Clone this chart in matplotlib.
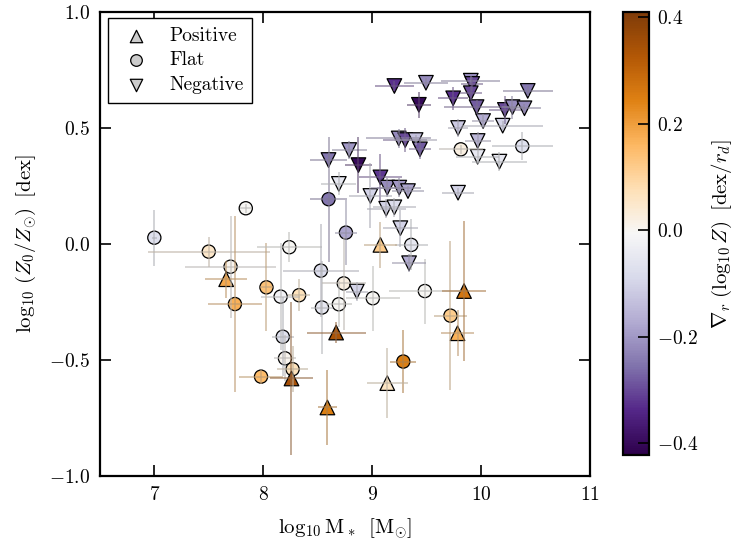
import numpy as np
import matplotlib
matplotlib.use('Agg')
import matplotlib.pyplot as plt

plt.rcParams['font.family'] = 'serif'
plt.rcParams['font.serif'] = ['cmr10']
plt.rcParams['mathtext.fontset'] = 'cm'
plt.rcParams['axes.formatter.use_mathtext'] = True
plt.rcParams['axes.unicode_minus'] = True

# Negative gradients
neg_m = [9.205, 9.495, 9.907, 9.92, 9.43, 9.745, 9.907, 9.96, 10.43, 10.22,
         10.29, 10.40, 10.02, 10.20, 9.79, 9.245, 9.305, 9.40, 9.44, 9.97,
         9.97, 10.17, 8.79, 8.60, 8.875, 9.077, 9.14, 9.25, 9.33, 8.695,
         8.985, 9.79, 9.13, 9.205, 9.26, 9.34, 8.86]
neg_z = [0.681, 0.695, 0.704, 0.69, 0.60, 0.628, 0.65, 0.59, 0.66, 0.578,
         0.59, 0.585, 0.53, 0.51, 0.50, 0.455, 0.448, 0.448, 0.408, 0.444,
         0.376, 0.355, 0.405, 0.362, 0.34, 0.287, 0.243, 0.243, 0.228, 0.259,
         0.207, 0.221, 0.152, 0.158, 0.068, -0.083, -0.205]
neg_g = [-0.33, -0.22, -0.22, -0.30, -0.40, -0.33, -0.30, -0.28, -0.25, -0.30,
         -0.22, -0.22, -0.17, -0.10, -0.12, -0.22, -0.30, -0.13, -0.28, -0.15,
         -0.05, -0.05, -0.20, -0.25, -0.40, -0.32, -0.22, -0.20, -0.18, -0.05,
         -0.10, -0.10, -0.10, -0.08, -0.10, -0.17, -0.10]
neg_xe = [0.18, 0.2, 0.27, 0.1, 0.11, 0.14, 0.1, 0.3, 0.23, 0.15,
          0.1, 0.15, 0.1, 0.37, 0.09, 0.3, 0.2, 0.2, 0.1, 0.12,
          0.2, 0.25, 0.16, 0.17, 0.12, 0.2, 0.15, 0.2, 0.15, 0.16,
          0.2, 0.15, 0.18, 0.2, 0.16, 0.16, 0.1]
neg_ye = [0.02, 0.02, 0.02, 0.03, 0.055, 0.05, 0.03, 0.03, 0.02, 0.06,
          0.05, 0.02, 0.03, 0.02, 0.04, 0.04, 0.05, 0.02, 0.04, 0.04,
          0.03, 0.04, 0.04, 0.03, 0.12, 0.1, 0.04, 0.04, 0.02, 0.05,
          0.14, 0.02, 0.04, 0.04, 0.08, 0.04, 0.04]

# Flat gradients
flat_m = [7.0, 7.50, 7.84, 7.70, 7.74, 8.03, 8.16, 8.24, 8.18, 8.20,
          8.27, 7.98, 8.33, 8.53, 8.54, 8.695, 8.74, 9.007, 9.485, 9.72,
          9.287, 9.36, 8.76, 8.60, 9.815, 10.38]
flat_z = [0.027, -0.033, 0.154, -0.098, -0.259, -0.187, -0.227, -0.014, -0.40, -0.493,
          -0.54, -0.572, -0.221, -0.115, -0.274, -0.26, -0.17, -0.234, -0.203, -0.309,
          -0.507, -0.004, 0.049, 0.193, 0.408, 0.422]
flat_g = [-0.07, 0.05, 0.0, 0.01, 0.17, 0.14, -0.02, 0.0, -0.07, 0.01,
          0.07, 0.15, 0.07, -0.08, -0.05, 0.0, 0.02, 0.0, 0.0, 0.12,
          0.25, -0.05, -0.18, -0.25, 0.02, -0.07]
flat_xe = [0.02, 0.56, 0.05, 0.42, 0.25, 0.06, 0.18, 0.3, 0.1, 0.1,
           0.14, 0.2, 0.1, 0.35, 0.1, 0.12, 0.2, 0.25, 0.33, 0.15,
           0.12, 0.15, 0.1, 0.17, 0.2, 0.28]
flat_ye = [0.12, 0.065, 0.02, 0.22, 0.38, 0.19, 0.23, 0.065, 0.17, 0.1,
           0.1, 0.03, 0.07, 0.2, 0.2, 0.1, 0.2, 0.14, 0.14, 0.32,
           0.135, 0.11, 0.14, 0.27, 0.02, 0.06]

# Positive gradients
pos_m = [7.66, 9.077, 9.845, 9.785, 8.67, 9.14, 8.59, 8.26]
pos_z = [-0.152, -0.004, -0.203, -0.385, -0.382, -0.60, -0.705, -0.58]
pos_g = [0.18, 0.12, 0.27, 0.17, 0.34, 0.06, 0.25, 0.35]
pos_xe = [0.19, 0.15, 0.2, 0.15, 0.27, 0.19, 0.09, 0.2]
pos_ye = [0.08, 0.1, 0.3, 0.1, 0.045, 0.15, 0.16, 0.33]

cmap = plt.get_cmap('PuOr_r')
norm = matplotlib.colors.Normalize(vmin=-0.4225, vmax=0.41)

fig = plt.figure(figsize=(7.4, 5.47), dpi=100)
ax = fig.add_axes([0.135, 0.130, 0.662, 0.848])
cax = fig.add_axes([0.842, 0.168, 0.035, 0.810])


def draw(m, z, g, xe, ye, marker, size):
    for xi, yi, gi, xei, yei in zip(m, z, g, xe, ye):
        rgb = np.array(cmap(norm(gi))[:3])
        ec = 0.5 * rgb + 0.5 * 0.5
        ax.errorbar(xi, yi, xerr=xei, yerr=yei, fmt='none', ecolor=ec,
                    alpha=0.6, elinewidth=1.3, capsize=0, zorder=3)
    return ax.scatter(m, z, c=g, cmap=cmap, norm=norm, marker=marker, s=size,
                      edgecolors='k', linewidths=0.9, zorder=2)


draw(flat_m, flat_z, flat_g, flat_xe, flat_ye, 'o', 90)
sc = draw(neg_m, neg_z, neg_g, neg_xe, neg_ye, 'v', 110)
draw(pos_m, pos_z, pos_g, pos_xe, pos_ye, '^', 110)

ax.set_xlim(6.5, 11)
ax.set_ylim(-1, 1)
ax.set_xticks([7, 8, 9, 10, 11])
ax.set_yticks([-1.0, -0.5, 0.0, 0.5, 1.0])
ax.set_yticklabels(['$-1.0$', '$-0.5$', '$0.0$', '$0.5$', '$1.0$'])
ax.tick_params(direction='in', top=True, right=True, length=8, width=1.2,
               labelsize=14, pad=7)
for s in ax.spines.values():
    s.set_linewidth(1.6)
ax.set_xlabel(r'$\log_{10}\mathrm{M}_*\;\;[\mathrm{M}_{\odot}]$', fontsize=15, labelpad=9)
ax.set_ylabel(r'$\log_{10}\,(Z_0/Z_{\odot})\;\;[\mathrm{dex}]$', fontsize=15, labelpad=8)

h1 = ax.scatter([], [], marker='^', s=80, c='0.8', edgecolors='k', linewidths=0.9)
h2 = ax.scatter([], [], marker='o', s=70, c='0.8', edgecolors='k', linewidths=0.9)
h3 = ax.scatter([], [], marker='v', s=80, c='0.8', edgecolors='k', linewidths=0.9)
leg = ax.legend([h1, h2, h3], ['Positive', 'Flat', 'Negative'], loc='upper left',
                fontsize=14, fancybox=False, framealpha=1, edgecolor='k',
                borderpad=0.45, handletextpad=0.7, labelspacing=0.35,
                borderaxespad=0, bbox_to_anchor=(0.016, 0.987))
leg.get_frame().set_linewidth(1.0)

cb = fig.colorbar(sc, cax=cax)
cb.set_ticks([-0.4, -0.2, 0.0, 0.2, 0.4])
cb.set_ticklabels(['$-0.4$', '$-0.2$', '$0.0$', '$0.2$', '$0.4$'])
cb.ax.tick_params(direction='in', length=8, width=1.2, labelsize=14, pad=6)
cb.outline.set_linewidth(1.6)
cb.set_label(r'$\nabla_r\;(\log_{10}Z)\;\;[\mathrm{dex}/r_d]$', fontsize=15, labelpad=8)

fig.savefig('out.png', dpi=100)
